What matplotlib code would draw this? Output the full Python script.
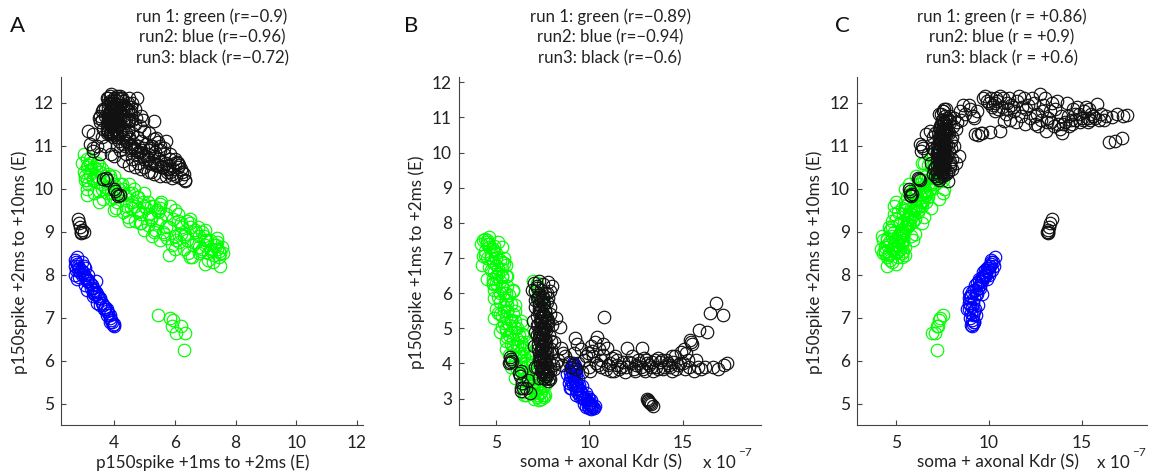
import numpy as np
import matplotlib.pyplot as plt

plt.rcParams['font.family'] = ['Lato', 'DejaVu Sans']

# every row: (soma + axonal Kdr in 1e-7 S, p150spike +1ms to +2ms, p150spike +2ms to +10ms)
run1_main = [
    (4.3, 7.5, 8.5), (4.5, 7.45, 8.4), (4.2, 7.4, 8.6), (4.9, 7.35, 8.7), (4.6, 7.3, 8.45),
    (4.4, 7.2, 8.55), (5.0, 7.15, 8.8), (4.7, 7.1, 8.35), (4.5, 7.0, 8.7), (5.2, 6.95, 8.9),
    (4.8, 6.9, 8.6), (5.0, 6.8, 8.5), (4.6, 6.75, 9.1), (5.3, 6.7, 9.0), (4.9, 6.6, 8.7),
    (5.1, 6.55, 8.4), (5.5, 6.5, 9.1), (4.8, 6.4, 9.25), (5.2, 6.35, 8.95), (5.0, 6.3, 8.6),
    (5.6, 6.2, 9.2), (5.3, 6.15, 8.75), (4.9, 6.1, 9.4), (5.4, 6.0, 8.9), (5.7, 5.95, 9.3),
    (5.1, 5.9, 8.7), (5.5, 5.8, 9.1), (5.2, 5.75, 8.85), (5.8, 5.7, 9.4), (5.4, 5.6, 9.0),
    (5.0, 5.55, 9.7), (5.6, 5.5, 9.3), (5.9, 5.4, 9.5), (5.3, 5.35, 9.05), (5.5, 5.3, 9.6),
    (6.0, 5.2, 9.3), (5.4, 5.15, 9.4), (5.7, 5.1, 9.15), (6.1, 5.0, 9.6), (5.5, 4.95, 9.7),
    (5.8, 4.9, 9.4), (6.2, 4.8, 9.5), (5.6, 4.75, 9.8), (5.9, 4.7, 9.25), (6.3, 4.6, 9.7),
    (5.8, 4.55, 9.55), (6.1, 4.5, 9.9), (6.4, 4.4, 9.6), (5.9, 4.35, 9.85), (6.2, 4.3, 9.45),
    (6.5, 4.2, 9.9), (6.0, 4.15, 10.0), (6.6, 4.1, 9.7), (6.3, 4.0, 10.1), (6.7, 3.95, 9.8),
    (6.4, 3.9, 10.2), (6.8, 3.8, 10.0), (6.5, 3.75, 9.9), (7.0, 3.7, 10.3), (6.7, 3.6, 10.1),
    (7.1, 3.55, 10.4), (6.6, 3.5, 9.95), (7.2, 3.4, 10.3), (6.9, 3.35, 10.5), (7.3, 3.3, 10.2),
    (7.0, 3.25, 10.45), (7.4, 3.2, 10.35), (7.1, 3.15, 10.1), (7.5, 3.1, 10.5), (7.2, 3.05, 10.3),
    (7.4, 3.0, 10.4), (7.3, 2.95, 10.6), (4.4, 7.55, 8.65), (4.8, 7.25, 8.3), (4.3, 7.05, 8.8),
    (5.4, 6.85, 8.55), (4.7, 6.65, 9.05), (5.3, 6.45, 8.5), (4.8, 6.25, 9.1), (5.9, 6.05, 8.8),
    (4.9, 5.85, 9.6), (6.0, 5.65, 8.95), (5.1, 5.45, 9.45), (5.8, 5.25, 8.9), (5.3, 5.05, 9.55),
    (6.4, 4.85, 9.2), (5.5, 4.65, 10.0), (6.5, 4.45, 9.35), (5.7, 4.25, 10.1), (6.9, 4.05, 9.55),
    (6.1, 3.85, 10.3), (7.3, 3.65, 9.75), (6.4, 3.45, 10.6), (7.5, 3.35, 9.9), (6.8, 3.2, 10.7),
    (7.6, 3.1, 10.0), (7.0, 3.0, 10.8), (7.55, 3.05, 10.2), (7.35, 3.15, 10.55), (7.6, 3.4, 10.45),
    (4.25, 6.8, 8.9), (4.6, 7.4, 8.75),
    (7.2, 3.1, 10.7), (6.7, 3.5, 10.55), (6.6, 4.0, 10.3), (6.2, 4.5, 10.1), (6.0, 5.0, 9.9),
    (5.6, 5.5, 9.65), (5.5, 6.0, 9.5), (5.0, 6.5, 9.3), (4.7, 7.0, 9.05), (4.5, 7.4, 8.85),
    (6.6, 3.1, 9.85), (6.4, 3.5, 9.7), (6.0, 4.0, 9.5), (5.9, 4.5, 9.25), (5.5, 5.0, 9.05),
    (5.4, 5.5, 8.8), (5.2, 6.0, 8.6), (5.3, 6.5, 8.4), (5.0, 7.0, 8.25), (4.5, 7.5, 8.2),
    (5.5, 5.8, 8.45), (6.9, 3.3, 10.25), (6.5, 3.7, 10.05), (6.3, 4.2, 9.85), (6.1, 4.7, 9.6),
    (5.8, 5.2, 9.35), (5.6, 5.7, 9.1), (5.3, 6.2, 8.95), (5.1, 6.7, 8.75), (4.9, 7.2, 8.6),
    (4.6, 7.6, 8.5), (7.0, 3.45, 10.15), (6.2, 3.9, 9.75), (6.8, 4.3, 10.0), (5.7, 4.8, 9.45),
    (6.4, 5.1, 9.7), (5.2, 5.4, 9.2), (5.9, 6.1, 9.25), (4.8, 6.3, 8.9), (5.5, 6.8, 8.65),
    (4.4, 7.1, 8.5), (7.3, 3.6, 10.45), (6.5, 3.2, 10.6),
    (5.3, 7.3, 8.7), (5.4, 7.0, 8.8), (5.1, 7.45, 8.55), (4.5, 6.4, 8.8), (6.3, 5.2, 9.6),
    (6.5, 4.8, 9.8), (4.9, 5.3, 9.0), (5.2, 4.9, 9.2), (5.5, 4.4, 9.5), (5.8, 3.9, 9.9),
    (6.0, 3.6, 10.0), (6.5, 3.1, 10.2), (6.6, 4.6, 9.9), (6.9, 4.2, 10.1), (7.2, 3.8, 10.35),
    (6.0, 5.5, 9.55), (5.6, 6.5, 9.2), (5.3, 6.9, 9.0),
]
run1_outliers = [
    (7.5, 5.45, 7.07), (7.36, 5.85, 7.0), (7.3, 5.95, 6.95), (7.26, 5.9, 6.8),
    (7.1, 6.05, 6.65), (7.2, 6.2, 6.8), (6.95, 6.35, 6.65), (7.2, 6.3, 6.25),
]
run2 = [
    (9.1, 4.0, 6.8), (9.15, 3.98, 6.85), (9.05, 3.95, 6.82), (9.2, 3.92, 6.9), (9.1, 3.9, 6.95),
    (9.0, 3.88, 7.0), (9.15, 3.85, 7.05), (9.05, 3.8, 7.1), (9.2, 3.78, 7.15), (8.95, 3.75, 7.2),
    (9.1, 3.7, 7.25), (9.25, 3.68, 7.2), (9.0, 3.65, 7.3), (9.15, 3.6, 7.35), (8.95, 3.55, 7.45),
    (9.2, 3.5, 7.45), (9.05, 3.48, 7.5), (9.3, 3.45, 7.55), (9.1, 3.4, 7.6), (9.35, 3.38, 7.55),
    (9.2, 3.35, 7.65), (9.4, 3.3, 7.7), (9.25, 3.28, 7.75), (9.5, 3.25, 7.7), (9.35, 3.2, 7.8),
    (9.55, 3.15, 7.85), (9.45, 3.12, 7.9), (9.65, 3.1, 7.85), (9.6, 3.05, 7.95), (9.75, 3.0, 8.0),
    (9.7, 2.98, 8.05), (9.85, 2.95, 8.0), (9.9, 2.9, 8.1), (10.0, 2.88, 8.05), (9.95, 2.85, 8.15),
    (10.05, 2.82, 8.2), (10.15, 2.8, 8.1), (10.1, 2.78, 8.25), (10.2, 2.75, 8.3), (10.25, 2.72, 8.2),
    (10.1, 2.7, 8.35), (8.8, 3.7, 7.2), (10.0, 2.72, 8.0), (9.9, 2.78, 7.9),
    (9.4, 3.55, 7.3), (9.3, 3.75, 7.05), (8.9, 3.45, 7.35), (9.0, 3.3, 7.5), (9.6, 3.35, 7.55),
    (9.5, 3.05, 7.75), (9.3, 3.1, 7.65), (9.8, 3.15, 8.0), (9.7, 2.85, 7.95), (10.1, 2.95, 8.3),
    (10.3, 2.78, 8.4), (10.0, 3.0, 8.2), (9.9, 3.05, 8.15), (9.45, 3.4, 7.85), (9.2, 3.85, 6.9),
    (8.95, 3.3, 7.6), (9.8, 2.75, 8.1),
]
run3_column = [
    (7.3, 6.35, 10.2), (7.0, 6.3, 10.35), (7.5, 6.25, 10.4), (7.2, 6.2, 10.25), (7.4, 6.1, 10.5),
    (7.1, 6.05, 10.3), (7.6, 6.0, 10.6), (7.3, 5.95, 10.45), (7.5, 5.9, 10.35), (7.2, 5.85, 10.7),
    (7.4, 5.8, 10.55), (7.7, 5.75, 10.4), (7.3, 5.7, 10.6), (7.5, 5.65, 10.8), (7.1, 5.6, 10.5),
    (7.4, 5.55, 10.65), (7.6, 5.5, 10.9), (7.3, 5.45, 10.7), (7.5, 5.4, 10.55), (7.2, 5.35, 10.85),
    (7.45, 5.3, 10.75), (7.7, 5.25, 11.0), (7.35, 5.2, 10.6), (7.55, 5.15, 10.9), (7.25, 5.1, 10.8),
    (7.5, 5.05, 11.05), (7.4, 5.0, 10.7), (7.65, 4.95, 10.95), (7.3, 4.9, 11.1), (7.5, 4.85, 10.85),
    (7.2, 4.8, 11.0), (7.45, 4.75, 11.2), (7.6, 4.7, 10.9), (7.35, 4.65, 11.05), (7.55, 4.6, 11.3),
    (7.25, 4.55, 10.95), (7.5, 4.5, 11.15), (7.7, 4.45, 11.35), (7.4, 4.4, 11.1), (7.6, 4.35, 11.25),
    (7.3, 4.3, 11.4), (7.5, 4.25, 11.05), (7.65, 4.2, 11.3), (7.4, 4.15, 11.5), (7.55, 4.1, 11.2),
    (7.35, 4.05, 11.4), (7.6, 4.0, 11.55), (7.45, 3.95, 11.3), (7.7, 3.9, 11.45), (7.5, 3.85, 11.6),
    (7.8, 3.8, 11.35), (7.55, 3.75, 11.5), (7.65, 3.7, 11.7), (7.7, 3.65, 11.4), (7.85, 3.6, 11.6),
    (7.6, 3.55, 11.55), (7.75, 3.5, 11.65), (8.2, 5.3, 10.6), (8.4, 5.05, 10.75), (8.1, 4.6, 11.0),
    (8.0, 4.3, 11.2), (8.2, 4.0, 11.4), (7.9, 5.6, 10.5), (6.9, 6.1, 10.6), (6.95, 5.2, 10.95),
    (7.0, 4.5, 11.2), (7.9, 3.8, 11.55), (8.0, 6.2, 10.45), (7.8, 6.33, 10.17), (7.9, 6.06, 10.62),
    (7.5, 3.6, 11.8), (7.7, 3.7, 11.85), (7.4, 3.8, 11.75), (7.9, 3.55, 11.7),
    (7.3, 3.6, 11.2), (7.5, 3.7, 11.0), (7.2, 3.9, 10.8), (7.6, 4.0, 10.75), (7.4, 4.1, 11.0),
    (7.35, 4.2, 10.9), (7.55, 4.3, 10.65), (7.25, 4.4, 10.8), (7.45, 4.5, 10.55), (7.65, 4.6, 10.7),
    (7.3, 4.7, 10.5), (7.5, 4.8, 10.6), (7.4, 4.9, 10.45), (7.6, 5.0, 10.5), (7.2, 5.1, 10.4),
    (7.45, 5.2, 10.4), (7.7, 5.3, 10.35), (7.35, 5.5, 10.3), (7.55, 5.7, 10.3), (7.25, 5.9, 10.25),
    (7.6, 3.65, 11.85), (7.5, 3.9, 11.8), (7.3, 4.1, 11.75), (7.7, 4.3, 11.6), (7.45, 4.5, 11.6),
    (7.6, 4.7, 11.5), (7.35, 4.85, 11.45), (7.55, 5.0, 11.35), (7.75, 5.15, 11.3), (7.4, 5.3, 11.15),
    (7.6, 5.5, 11.0), (7.3, 5.65, 10.95), (7.5, 5.85, 10.8), (7.7, 6.0, 10.7), (7.2, 6.15, 10.55),
    (7.45, 3.75, 11.4), (7.35, 3.95, 11.2), (7.55, 4.15, 11.1), (7.4, 4.35, 11.0), (7.6, 4.55, 10.9),
    (7.3, 4.75, 10.8), (7.5, 4.95, 10.75), (7.4, 5.15, 10.6), (7.6, 5.35, 10.55), (7.3, 5.55, 10.5),
    (7.5, 5.75, 10.45),
    (7.85, 4.05, 11.3), (7.95, 4.4, 11.1), (7.85, 4.8, 10.85), (8.0, 5.1, 10.7), (7.9, 5.4, 10.55),
    (7.8, 5.85, 10.4), (8.05, 3.95, 11.45), (7.95, 4.65, 10.95), (7.8, 5.2, 11.0), (7.05, 5.8, 10.45),
    (7.05, 4.9, 10.9), (7.1, 3.9, 11.3),
]
run3_band = [
    (8.3, 4.1, 11.55), (8.5, 3.95, 11.6), (8.7, 4.2, 11.75), (8.9, 4.05, 11.95), (9.15, 4.3, 11.7),
    (9.2, 4.73, 11.65), (9.55, 4.4, 11.3), (9.25, 3.85, 11.27), (9.6, 3.75, 11.3), (10.05, 3.8, 11.32),
    (10.6, 3.9, 11.35), (9.7, 4.1, 12.1), (9.9, 4.3, 12.05), (10.1, 4.5, 12.12), (10.2, 4.2, 11.95),
    (10.3, 4.6, 12.0), (10.4, 4.75, 12.1), (10.5, 4.4, 11.85), (10.6, 4.1, 12.15), (10.7, 4.55, 11.9),
    (10.35, 4.0, 11.8), (10.8, 5.33, 11.58), (10.9, 3.85, 11.75), (11.1, 4.0, 12.1), (11.3, 3.8, 11.9),
    (11.5, 4.1, 12.05), (11.7, 3.9, 11.7), (11.9, 3.75, 12.1), (12.0, 4.45, 11.85), (12.2, 4.0, 11.65),
    (12.4, 3.85, 12.0), (12.6, 4.1, 11.75), (12.75, 3.9, 12.2), (12.8, 4.45, 11.6), (13.0, 3.8, 12.1),
    (13.1, 4.0, 11.55), (13.3, 3.9, 11.8), (13.5, 4.1, 11.45), (13.65, 3.85, 12.05), (13.8, 4.05, 11.4),
    (14.0, 3.9, 11.5), (14.2, 4.0, 12.0), (14.4, 3.8, 11.6), (14.6, 4.2, 11.75), (14.75, 3.95, 11.9),
    (14.9, 4.34, 11.55), (15.1, 3.85, 11.8), (15.3, 4.1, 11.65), (15.4, 4.68, 11.85), (15.45, 4.6, 11.6),
    (15.5, 4.55, 11.75), (15.8, 3.9, 11.97), (15.9, 4.96, 11.6), (16.3, 4.9, 11.7), (16.6, 3.9, 11.67),
    (16.45, 5.44, 11.09), (16.8, 5.72, 11.12), (17.15, 5.39, 11.17), (17.2, 3.95, 11.7), (17.4, 4.02, 11.72),
    (11.0, 3.95, 11.85), (11.2, 4.15, 11.95), (11.6, 3.85, 12.15), (12.1, 4.05, 11.95), (12.5, 3.95, 11.5),
    (12.9, 4.15, 11.95), (13.2, 3.95, 11.65), (13.4, 3.8, 12.0), (13.9, 4.1, 11.7), (14.3, 3.9, 11.45),
    (14.5, 4.05, 11.85), (15.0, 4.0, 11.65), (15.2, 4.3, 11.9), (15.6, 3.8, 11.7), (16.0, 3.85, 11.75),
    (8.1, 3.85, 11.65), (9.0, 3.9, 11.85), (9.4, 4.0, 11.25),
    (9.8, 4.2, 12.15), (10.0, 3.9, 12.0), (10.15, 4.35, 11.9), (10.45, 3.95, 12.05), (10.75, 4.25, 12.1),
    (10.95, 4.45, 12.0), (11.15, 3.8, 11.6), (11.35, 4.2, 11.8), (11.45, 3.95, 11.55), (11.8, 4.05, 11.9),
    (11.95, 3.9, 11.5), (12.3, 4.2, 12.1), (12.45, 3.8, 11.7), (12.65, 4.0, 11.45), (12.85, 3.85, 11.8),
    (13.05, 4.1, 11.35), (13.35, 4.05, 11.55), (13.55, 3.9, 11.85), (13.7, 4.15, 11.5), (13.95, 3.85, 11.3),
    (14.1, 4.1, 11.55), (14.25, 3.95, 11.7), (14.45, 4.2, 11.5), (14.65, 3.85, 11.6), (14.85, 4.0, 11.75),
    (15.05, 4.4, 11.6), (15.35, 3.9, 11.55), (15.7, 4.1, 11.65), (16.2, 3.9, 11.6), (16.9, 3.85, 11.75),
    (9.35, 4.55, 11.8), (8.6, 4.3, 11.95), (8.45, 4.45, 11.8),
]
run3_low = [
    (13.1, 3.0, 9.0), (13.15, 2.95, 9.05), (13.2, 2.9, 9.0), (13.25, 2.88, 9.1),
    (13.3, 2.85, 9.2), (13.4, 2.8, 9.3), (13.15, 2.92, 8.98),
]
run3_mid = [
    (6.25, 3.65, 10.22), (6.3, 3.78, 10.2), (6.2, 3.72, 10.25), (5.75, 4.03, 9.94),
    (5.8, 4.13, 9.82), (5.7, 4.0, 10.0), (5.85, 4.08, 9.88), (5.75, 4.18, 9.85),
]
run3_left = [
    (6.8, 3.15, 11.34), (6.6, 3.31, 11.27), (6.3, 3.21, 11.04), (6.4, 3.44, 10.99),
    (6.35, 3.31, 10.87), (6.7, 3.54, 10.8), (6.45, 3.3, 10.95),
]

run1 = np.array(run1_main + run1_outliers)
run2 = np.array(run2)
run3 = np.array(run3_column + run3_band + run3_low + run3_mid + run3_left)

titles = [
    'run 1: green (r=\u22120.9)\nrun2: blue (r=\u22120.96)\nrun3: black (r=\u22120.72)',
    'run 1: green (r=\u22120.89)\nrun2: blue (r=\u22120.94)\nrun3: black (r=\u22120.6)',
    'run 1: green (r = +0.86)\nrun2: blue (r = +0.9)\nrun3: black (r = +0.6)',
]
xlabels = ['p150spike +1ms to +2ms (E)', 'soma + axonal Kdr (S)', 'soma + axonal Kdr (S)']
ylabels = ['p150spike +2ms to +10ms (E)', 'p150spike +1ms to +2ms (E)', 'p150spike +2ms to +10ms (E)']
letters = ['A', 'B', 'C']
# column used for x and y in each panel
cols = [(1, 2), (0, 1), (0, 2)]
xlims = [(2.25, 12.2), (3.0, 19.2), (2.9, 18.5)]
ylims = [(4.5, 12.6), (2.25, 12.15), (4.5, 12.6)]
xticks = [[4, 6, 8, 10, 12], [5, 10, 15], [5, 10, 15]]
yticks = [range(5, 13), range(3, 13), range(5, 13)]

W, H = 1157, 474
fig = plt.figure(figsize=(W / 100, H / 100), dpi=100)
boxes = [(61, 302), (459, 302), (857, 290)]
letter_x = [17, 411, 842]
xlab_x = [0.47, 0.47, 0.486]
ylab_x = [-0.109, -0.113, -0.117]

for i in range(3):
    left, width = boxes[i]
    ax = fig.add_axes([left / W, 49 / H, width / W, 348 / H])
    cx, cy = cols[i]
    for data, c in [(run1, '#00ff00'), (run2, '#0000ff'), (run3, '#111111')]:
        ax.plot(data[:, cx], data[:, cy], 'o', mfc='none', mec=c, ms=9, mew=0.85)
    ax.set_xlim(xlims[i])
    ax.set_ylim(ylims[i])
    ax.set_xticks(xticks[i])
    ax.set_yticks(list(yticks[i]))
    for s in ['top', 'right']:
        ax.spines[s].set_visible(False)
    for s in ['left', 'bottom']:
        ax.spines[s].set_color('#444444')
        ax.spines[s].set_linewidth(0.8)
    ax.tick_params(direction='in', length=3.5, width=0.8, color='#444444',
                   labelsize=12.5, labelcolor='#222222')
    ax.tick_params(axis='x', pad=7)
    ax.tick_params(axis='y', pad=5)
    ax.set_title(titles[i], fontsize=12.1, color='#222222', linespacing=1.33, pad=10)
    ax.set_xlabel(xlabels[i], fontsize=12.3, color='#222222')
    ax.set_ylabel(ylabels[i], fontsize=12.3, color='#222222')
    ax.xaxis.set_label_coords(xlab_x[i], -0.085)
    ax.xaxis.label.set_va('top')
    ax.yaxis.set_label_coords(ylab_x[i], 0.468)
    fig.text(letter_x[i] / W, 1 - 26 / H, letters[i], fontsize=16, ha='center', va='center', color='#111111')

# scale factor of the Kdr axis
for xl in [703, 1097]:
    fig.text(xl / W, 1 - 463 / H, 'x 10', fontsize=12.3, va='center', color='#222222')
    fig.text((xl + 35) / W, 1 - 452 / H, '\u22127', fontsize=8.5, va='center', color='#222222')

fig.savefig('out.png', dpi=100)
